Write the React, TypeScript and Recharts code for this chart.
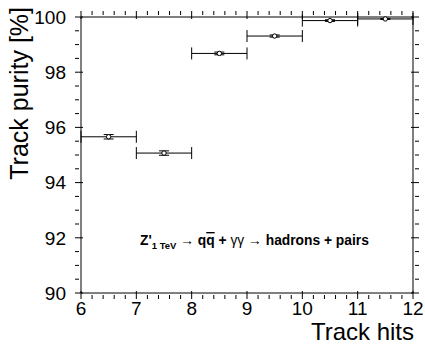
import React from 'react';
import { ComposedChart, Scatter, ErrorBar, XAxis, YAxis, Customized } from 'recharts';

// bin centres (track hits) and measured purity
const hitBins = [6.5, 7.5, 8.5, 9.5, 10.5, 11.5];
const purity = [95.66, 95.07, 98.68, 99.31, 99.87, 99.93];
const binHalfWidth = [0.5, 0.5, 0.5, 0.5, 0.5, 0.5];
const purityErr = [0.08, 0.08, 0.05, 0.04, 0.03, 0.02];

const xMajorTicks = [6, 7, 8, 9, 10, 11, 12];
const yMajorTicks = [90, 92, 94, 96, 98, 100];

// ROOT style minor divisions: 5 per x unit, 4 per y major step
const xTicks: number[] = [];
for (let i = 0; i <= 30; i++) xTicks.push(+(6 + i * 0.2).toFixed(2));
const yTicks: number[] = [];
for (let i = 0; i <= 20; i++) yTicks.push(90 + i * 0.5);

const data = hitBins.map((x, i) => ({
  x,
  y: purity[i],
  xErr: binHalfWidth[i],
  yErr: purityErr[i],
}));

const FONT = '"Liberation Sans", Arial, Helvetica, sans-serif';
const isMajor = (list: number[], v: number) => list.some((t) => Math.abs(t - v) < 1e-6);

const BottomTick = (props: any) => {
  const { x, y, payload } = props;
  const major = isMajor(xMajorTicks, payload.value);
  return (
    <g>
      <path d={`M${x},${y}v${major ? -8 : -4}`} stroke="#000" strokeWidth={1} fill="none" />
      {major && (
        <text x={x} y={y + 15.5} textAnchor="middle" fontSize={19} fontFamily={FONT} fill="#000">
          {payload.value}
        </text>
      )}
    </g>
  );
};

const TopTick = (props: any) => {
  const { x, y, payload } = props;
  const major = isMajor(xMajorTicks, payload.value);
  return <path d={`M${x},${y}v${major ? 8 : 4}`} stroke="#000" strokeWidth={1} fill="none" />;
};

const LeftTick = (props: any) => {
  const { x, y, payload } = props;
  const major = isMajor(yMajorTicks, payload.value);
  return (
    <g>
      <path d={`M${x},${y}h${major ? 8 : 4}`} stroke="#000" strokeWidth={1} fill="none" />
      {major && (
        <text x={x - 9} y={y + 6.8} textAnchor="end" fontSize={19} fontFamily={FONT} fill="#000">
          {payload.value}
        </text>
      )}
    </g>
  );
};

const RightTick = (props: any) => {
  const { x, y, payload } = props;
  const major = isMajor(yMajorTicks, payload.value);
  return <path d={`M${x},${y}h${major ? -8 : -4}`} stroke="#000" strokeWidth={1} fill="none" />;
};

const Marker = (props: any) => (
  <circle cx={props.cx} cy={props.cy} r={2.2} fill="#fff" stroke="#000" strokeWidth={1} />
);

const Texts = () => (
  <g fontFamily={FONT} fill="#000">
    <text x={28} y={7} transform="rotate(-90, 28, 7)" textAnchor="end" fontSize={25}>
      Track purity [%]
    </text>
    <text x={414} y={339.8} textAnchor="end" fontSize={24}>
      Track hits
    </text>
    <text x={140} y={245} fontSize={13.8} fontWeight="bold">
      Z'
      <tspan fontSize={9.5} dy={4}>1 TeV</tspan>
      <tspan dy={-4} fontWeight="normal"> → </tspan>
      <tspan>q</tspan>
      <tspan style={{ textDecoration: 'overline' }}>q</tspan>
      <tspan> + </tspan>
      <tspan fontWeight="normal">γγ</tspan>
      <tspan fontWeight="normal"> → </tspan>
      <tspan>hadrons + pairs</tspan>
    </text>
  </g>
);

export default function App() {
  return (
    <div style={{ position: 'absolute', left: 0, top: 0, background: '#fff' }}>
      <ComposedChart width={425} height={345} data={data} margin={{ top: 16, right: 11, bottom: 0, left: 0 }}>
        <XAxis
          xAxisId="bottom"
          dataKey="x"
          type="number"
          domain={[6, 12]}
          ticks={xTicks}
          interval={0}
          height={52}
          tickLine={false}
          tickMargin={0}
          tick={<BottomTick />}
          axisLine={{ stroke: '#000' }}
        />
        <XAxis
          xAxisId="top"
          orientation="top"
          dataKey="x"
          type="number"
          domain={[6, 12]}
          ticks={xTicks}
          interval={0}
          height={1}
          tickLine={false}
          tickMargin={0}
          tick={<TopTick />}
          axisLine={{ stroke: '#000' }}
        />
        <YAxis
          yAxisId="left"
          dataKey="y"
          type="number"
          domain={[90, 100]}
          ticks={yTicks}
          interval={0}
          width={81}
          tickLine={false}
          tickMargin={0}
          tick={<LeftTick />}
          axisLine={{ stroke: '#000' }}
        />
        <YAxis
          yAxisId="right"
          orientation="right"
          dataKey="y"
          type="number"
          domain={[90, 100]}
          ticks={yTicks}
          interval={0}
          width={1}
          tickLine={false}
          tickMargin={0}
          tick={<RightTick />}
          axisLine={{ stroke: '#000' }}
        />
        <Scatter
          xAxisId="bottom"
          yAxisId="left"
          dataKey="y"
          shape={<Marker />}
          isAnimationActive={false}
        >
          <ErrorBar dataKey="xErr" direction="x" width={6} stroke="#000" strokeWidth={1} />
          <ErrorBar dataKey="yErr" direction="y" width={5} stroke="#000" strokeWidth={1} />
        </Scatter>
        <Customized component={Texts} />
      </ComposedChart>
    </div>
  );
}
